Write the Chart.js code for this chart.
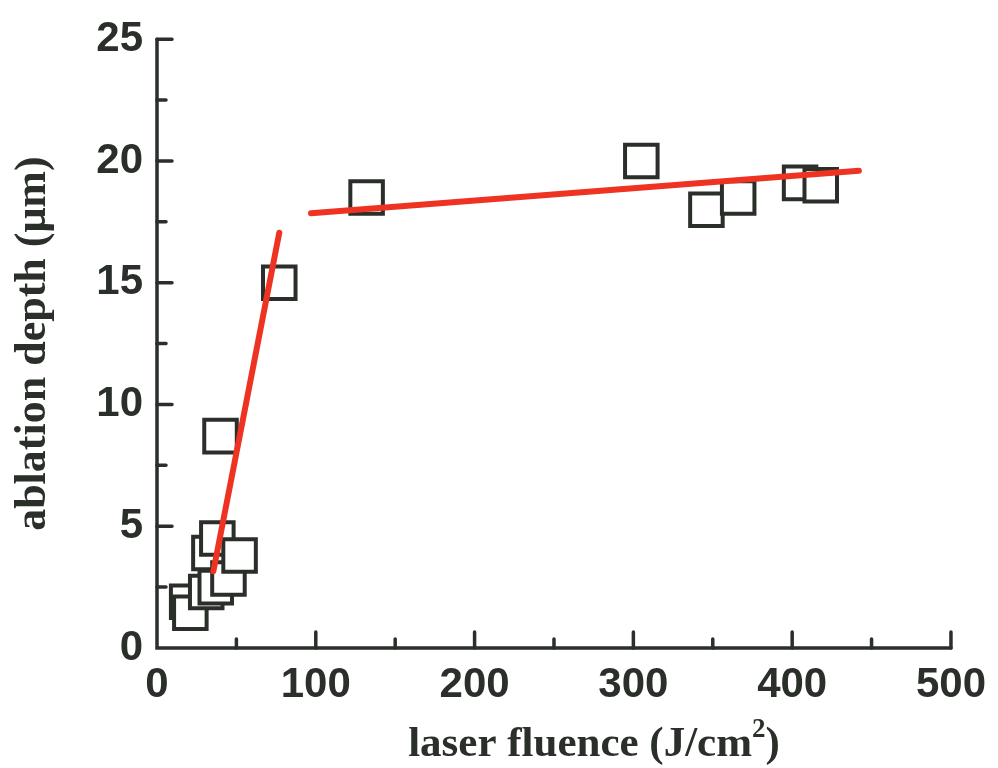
<!DOCTYPE html>
<html>
<head>
<meta charset="utf-8">
<title>ablation depth</title>
<script src="https://cdn.jsdelivr.net/npm/chart.js@4"></script>
<style>
  html, body { margin: 0; padding: 0; background: #ffffff; }
  #grafica { display: block; }
</style>
</head>
<body>
<canvas id="grafica" width="998" height="768"></canvas>
<script>
// measured points: laser fluence (J/cm2) vs ablation depth (um)
const fluence = [19, 21, 31, 37, 33, 38, 45, 52, 40, 77, 132, 305, 346, 366, 405, 418];
const depth = [1.9, 1.45, 2.3, 2.5, 3.9, 4.5, 2.85, 3.8, 8.7, 15.0, 18.5, 20.0, 18.0, 18.5, 19.1, 19.0];

// linear fits, low and high fluence regimes (end points)
const fitLowX = [35.5, 77];
const fitLowY = [3.15, 17.05];
const fitHighX = [97, 442];
const fitHighY = [17.85, 19.6];

const xTicks = [0, 100, 200, 300, 400, 500];
const yTicks = [0, 5, 10, 15, 20, 25];

const ink = "#2a2f2a";
const rojo = "#ee3322";

const toXY = (xs, ys) => xs.map((x, i) => ({ x: x, y: ys[i] }));

// axes are drawn by hand so the ticks point inwards, like the original plot
const ejes = {
  id: "ejes",
  beforeDatasetsDraw(chart) {
    const { ctx, scales: { x, y } } = chart;
    const x0 = x.getPixelForValue(0), x1 = x.getPixelForValue(500);
    const y0 = y.getPixelForValue(0), y1 = y.getPixelForValue(25);
    ctx.save();
    ctx.strokeStyle = ink;
    ctx.lineWidth = 3.5;
    ctx.lineCap = "round";
    ctx.beginPath();
    ctx.moveTo(x0, y1);
    ctx.lineTo(x0, y0);
    ctx.lineTo(x1, y0);
    ctx.stroke();
    ctx.beginPath();
    for (let v = 50; v <= 500; v += 50) {
      const px = x.getPixelForValue(v);
      const len = v % 100 === 0 ? 16 : 9;
      ctx.moveTo(px, y0);
      ctx.lineTo(px, y0 - len);
    }
    for (let v = 2.5; v <= 25; v += 2.5) {
      const py = y.getPixelForValue(v);
      const len = v % 5 === 0 ? 15 : 9;
      ctx.moveTo(x0, py);
      ctx.lineTo(x0 + len, py);
    }
    ctx.stroke();
    ctx.restore();
  },
  afterDraw(chart) {
    // x title with a raised "2"
    const { ctx } = chart;
    const big = "bold 43px 'Liberation Serif', 'Times New Roman', serif";
    const small = "bold 27px 'Liberation Serif', 'Times New Roman', serif";
    const a = "laser fluence (J/cm", b = "2", c = ")";
    ctx.save();
    ctx.fillStyle = ink;
    ctx.textBaseline = "alphabetic";
    ctx.font = big;
    const wa = ctx.measureText(a).width, wc = ctx.measureText(c).width;
    ctx.font = small;
    const wb = ctx.measureText(b).width;
    let px = 594 - (wa + wb + wc) / 2;
    const base = 756;
    ctx.font = big;
    ctx.fillText(a, px, base);
    px += wa;
    ctx.font = small;
    ctx.fillText(b, px, base - 19);
    px += wb;
    ctx.font = big;
    ctx.fillText(c, px, base);
    ctx.restore();
  }
};

const canvas = document.getElementById("grafica");
const grafico = new Chart(canvas.getContext("2d"), {
  type: "scatter",
  data: {
    datasets: [
      {
        label: "ajuste bajo",
        type: "line",
        data: toXY(fitLowX, fitLowY),
        borderColor: rojo,
        borderWidth: 6,
        borderCapStyle: "round",
        pointRadius: 0,
        showLine: true,
        order: 0
      },
      {
        label: "ajuste alto",
        type: "line",
        data: toXY(fitHighX, fitHighY),
        borderColor: rojo,
        borderWidth: 6,
        borderCapStyle: "round",
        pointRadius: 0,
        showLine: true,
        order: 0
      },
      {
        label: "medidas",
        data: toXY(fluence, depth),
        pointStyle: "rect",
        pointRadius: 23,
        pointBorderWidth: 4,
        pointBorderColor: ink,
        pointBackgroundColor: "#ffffff",
        order: 1
      }
    ]
  },
  options: {
    responsive: false,
    animation: false,
    layout: { padding: { top: 33, right: 44, left: 0, bottom: 0 } },
    plugins: { legend: { display: false }, tooltip: { enabled: false } },
    scales: {
      x: {
        type: "linear",
        min: 0,
        max: 500,
        afterBuildTicks: (s) => { s.ticks = xTicks.map(v => ({ value: v })); },
        afterFit: (s) => { s.height = 120; },
        grid: { display: false, drawTicks: false },
        border: { display: false },
        ticks: {
          padding: 12,
          color: ink,
          font: { family: "'Liberation Sans', Arial, sans-serif", size: 42, weight: "bold" }
        }
      },
      y: {
        type: "linear",
        min: 0,
        max: 25,
        afterBuildTicks: (s) => { s.ticks = yTicks.map(v => ({ value: v })); },
        afterFit: (s) => { s.width = 157; },
        grid: { display: false, drawTicks: false },
        border: { display: false },
        ticks: {
          padding: 14,
          color: ink,
          font: { family: "'Liberation Sans', Arial, sans-serif", size: 42, weight: "bold" }
        },
        title: {
          display: true,
          text: "ablation depth (\u03bcm)",
          color: ink,
          padding: { top: 7, bottom: 0 },
          font: { family: "'Liberation Serif', 'Times New Roman', serif", size: 44, weight: "bold" }
        }
      }
    }
  },
  plugins: [ejes]
});
</script>
</body>
</html>
